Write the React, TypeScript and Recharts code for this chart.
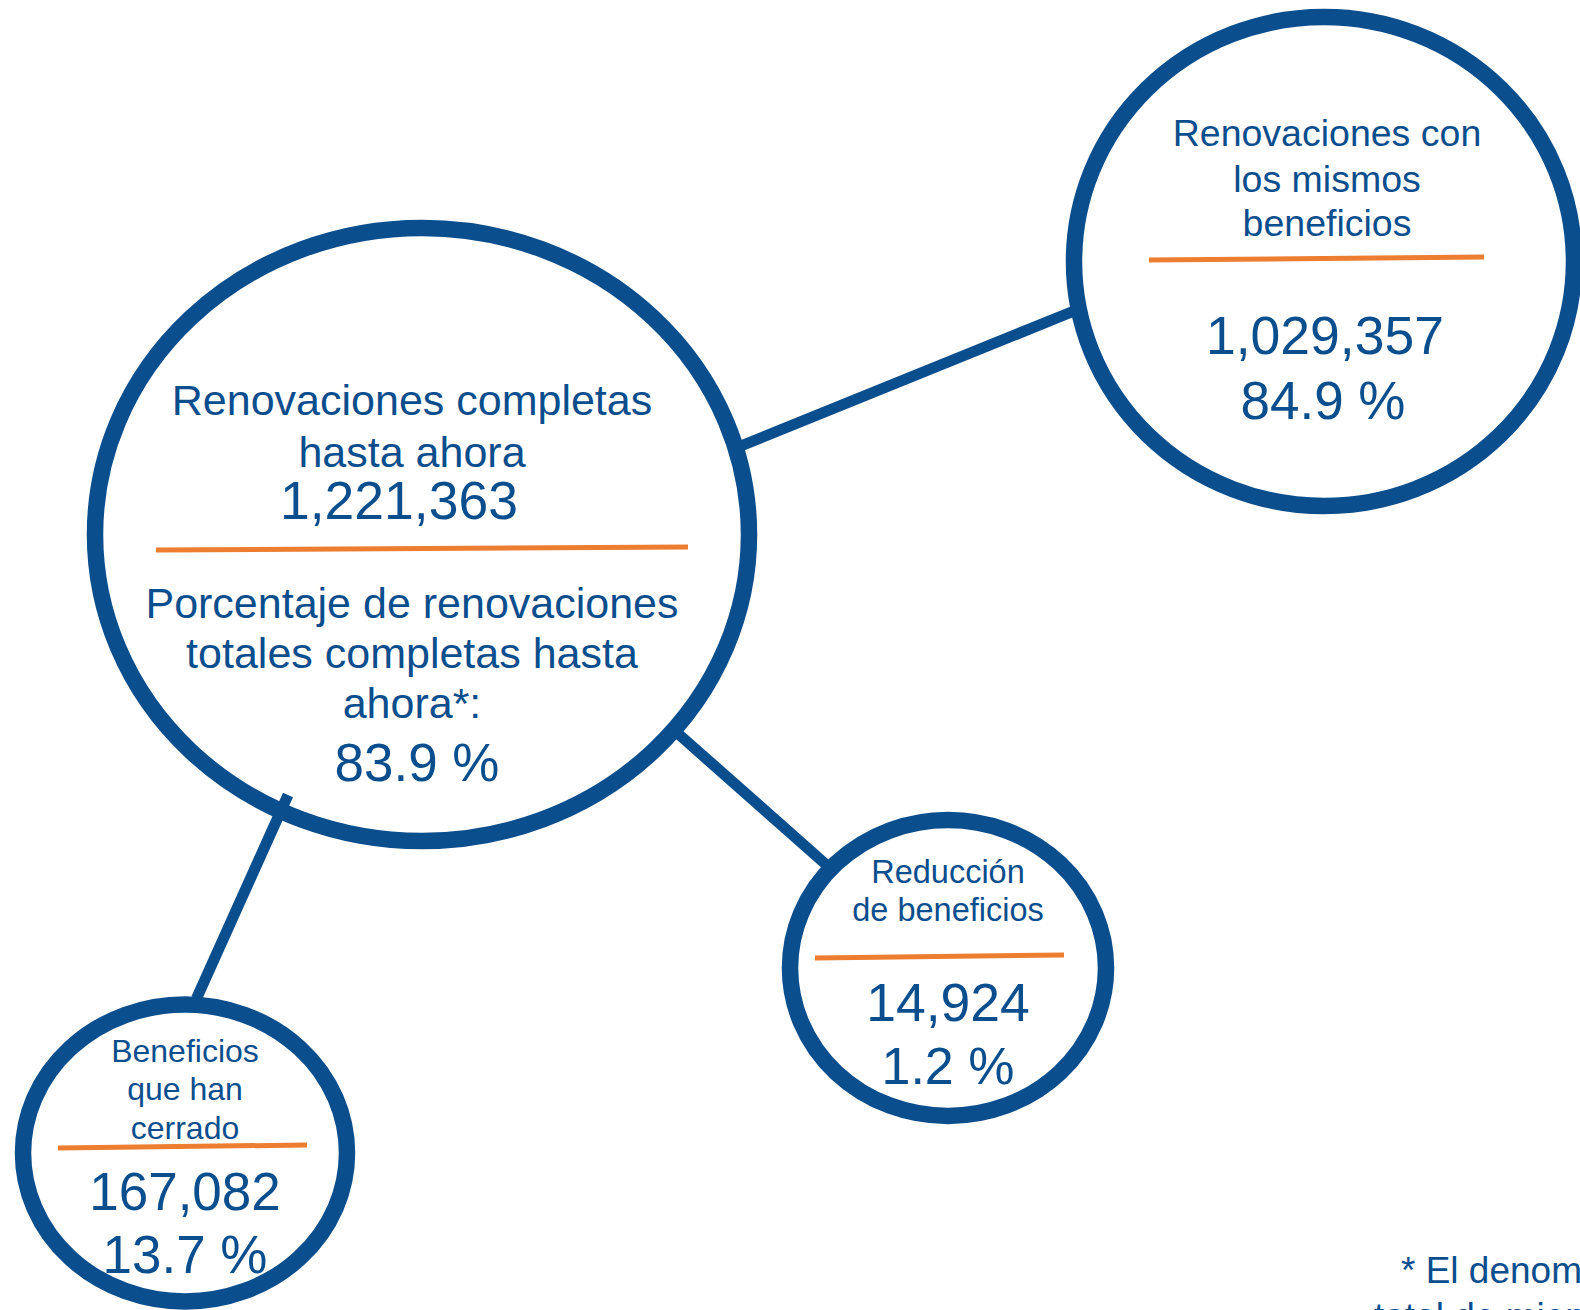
import { ScatterChart, Scatter, XAxis, YAxis, ReferenceLine } from "recharts";

const BLUE = "#0b4e8e";
const ORANGE = "#ed7d31";
const FONT = "'Liberation Sans', Arial, sans-serif";

// values
const bubbleIds = ["total", "mismos", "reduccion", "cerrado"];
const titles = [
  ["Renovaciones completas", "hasta ahora"],
  ["Renovaciones con", "los mismos", "beneficios"],
  ["Reducción", "de beneficios"],
  ["Beneficios", "que han", "cerrado"],
];
const counts = [1221363, 1029357, 14924, 167082];
const shares = [83.9, 84.9, 1.2, 13.7];
const shareNote = ["Porcentaje de renovaciones", "totales completas hasta", "ahora*:"];
const footnote = ["* El denominador es el", "total de miembros"];
const links = [
  ["total", "mismos"],
  ["total", "reduccion"],
  ["total", "cerrado"],
];

// layout (pixel units, axis domains map 1:1)
const W = 1580;
const H = 1310;
const layout: Record<string, any> = {
  total: {
    x: 422, y: 534.5, rx: 327, ry: 306.5,
    title: { dy: [-135, -83], size: 43, dx: -10 },
    count: { dy: -34, size: 53.5, dx: -23 },
    divider: { dy: 14, x1: -266, x2: 266 },
    note: { dy: [68, 118, 168], size: 43, dx: -10 },
    share: { dy: 228, size: 53, dx: -5 },
  },
  mismos: {
    x: 1324, y: 261.5, rx: 250, ry: 244.5,
    title: { dy: [-128.5, -83, -39], size: 37.5, dx: 3 },
    divider: { dy: -3, x1: -175, x2: 160 },
    count: { dy: 74, size: 53.5, dx: 1 },
    share: { dy: 138.5, size: 53, dx: -1 },
  },
  reduccion: {
    x: 948, y: 968, rx: 158, ry: 148,
    title: { dy: [-96, -58], size: 32.5, dx: 0 },
    divider: { dy: -11.5, x1: -133, x2: 116 },
    count: { dy: 34, size: 53.5, dx: 0 },
    share: { dy: 98, size: 52, dx: 0 },
  },
  cerrado: {
    x: 185, y: 1153, rx: 162, ry: 148.5,
    title: { dy: [-102, -64, -25.5], size: 32, dx: 0 },
    divider: { dy: -6.5, x1: -127, x2: 122 },
    count: { dy: 38, size: 53, dx: 0 },
    share: { dy: 101.5, size: 53, dx: 0 },
  },
};
const linkEnds: Record<string, [number, number, number, number]> = {
  mismos: [742, 445.5, 1074, 311],
  reduccion: [679, 734.5, 826, 864.5],
  cerrado: [288, 795, 196.5, 998.5],
};

const fmt = (n: number) => n.toLocaleString("en-US");

const bubbleData = bubbleIds.map((id, i) => ({ x: layout[id].x, y: layout[id].y, i, id }));

function Line({ x, y, size, children }: any) {
  return (
    <text x={x} y={y} textAnchor="middle" dominantBaseline="central" fontSize={size} fill={BLUE} fontFamily={FONT}>
      {children}
    </text>
  );
}

function Bubble(props: any) {
  const { cx, cy, payload } = props;
  const i = payload.i;
  const L = layout[payload.id];
  return (
    <g>
      <ellipse cx={cx} cy={cy} rx={L.rx} ry={L.ry} fill="none" stroke={BLUE} strokeWidth={16.5} />
      {titles[i].map((t, k) => (
        <Line key={"t" + k} x={cx + L.title.dx} y={cy + L.title.dy[k]} size={L.title.size}>{t}</Line>
      ))}
      <line
        x1={cx + L.divider.x1}
        x2={cx + L.divider.x2}
        y1={cy + L.divider.dy + 1.5}
        y2={cy + L.divider.dy - 1.5}
        stroke={ORANGE}
        strokeWidth={5}
      />
      <Line x={cx + L.count.dx} y={cy + L.count.dy} size={L.count.size}>{fmt(counts[i])}</Line>
      {L.note &&
        shareNote.map((t, k) => (
          <Line key={"n" + k} x={cx + L.note.dx} y={cy + L.note.dy[k]} size={L.note.size}>{t}</Line>
        ))}
      <Line x={cx + L.share.dx} y={cy + L.share.dy} size={L.share.size}>{shares[i].toFixed(1) + " %"}</Line>
    </g>
  );
}

export default function App() {
  return (
    <div style={{ position: "absolute", left: 0, top: 0, width: W, height: H, background: "#fff" }}>
      <ScatterChart width={W} height={H} margin={{ top: 0, right: 0, bottom: 0, left: 0 }}>
        <XAxis type="number" dataKey="x" domain={[0, W]} hide />
        <YAxis type="number" dataKey="y" domain={[0, H]} reversed hide />
        {links.map(([, to]) => {
          const e = linkEnds[to];
          return (
            <ReferenceLine
              key={to}
              segment={[{ x: e[0], y: e[1] }, { x: e[2], y: e[3] }]}
              stroke={BLUE}
              strokeWidth={11}
              ifOverflow="visible"
            />
          );
        })}
        <Scatter data={bubbleData} shape={Bubble} isAnimationActive={false} />
      </ScatterChart>
      <svg width={W} height={H} style={{ position: "absolute", left: 0, top: 0, pointerEvents: "none" }}>
        <text x={1401} y={1283} fontSize={37} fill={BLUE} fontFamily={FONT}>{footnote[0]}</text>
        <text x={1374} y={1329} fontSize={37} fill={BLUE} fontFamily={FONT}>{footnote[1]}</text>
      </svg>
    </div>
  );
}
